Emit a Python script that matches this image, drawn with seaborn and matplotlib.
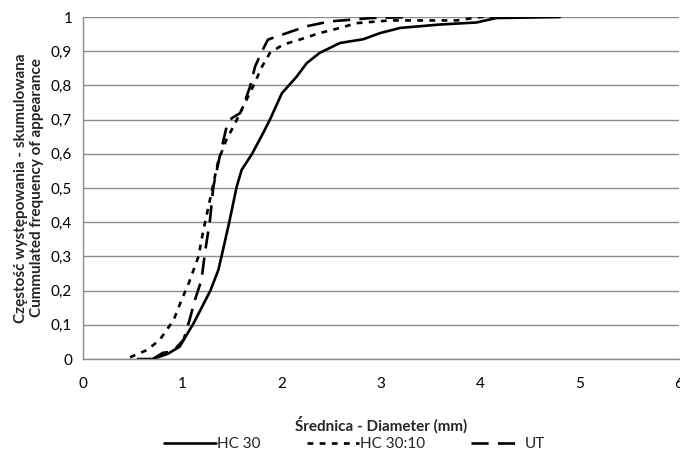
import matplotlib.pyplot as plt
import numpy as np
import pandas as pd
import seaborn as sns

# ---------------------------------------------------------------------------
# Data (cumulated frequency vs diameter)
# ---------------------------------------------------------------------------

hc30_x = [0.55, 0.70, 0.85, 0.97, 1.11, 1.28, 1.36, 1.40, 1.47, 1.545, 1.595,
          1.70, 1.81, 1.88, 2.00, 2.15, 2.25, 2.38, 2.585, 2.82, 2.99, 3.19,
          3.59, 3.96, 4.16, 4.80]
hc30_y = [0.0, 0.0, 0.015, 0.036, 0.104, 0.20, 0.26, 0.31, 0.40, 0.504, 0.553,
          0.60, 0.66, 0.70, 0.777, 0.826, 0.865, 0.895, 0.924, 0.935, 0.953,
          0.968, 0.978, 0.984, 0.997, 1.0]

hc3010_x = [0.47, 0.64, 0.77, 0.91, 0.99, 1.06, 1.16, 1.21, 1.29, 1.36, 1.44,
            1.53, 1.61, 1.71, 1.80, 1.88, 2.01, 2.18, 2.38, 2.585, 2.75, 3.09,
            3.76, 4.00, 4.16]
hc3010_y = [0.005, 0.026, 0.056, 0.114, 0.173, 0.22, 0.30, 0.377, 0.485, 0.58,
            0.64, 0.69, 0.738, 0.797, 0.855, 0.895, 0.919, 0.934, 0.953, 0.968,
            0.982, 0.99, 0.99, 1.0, 1.0]

ut_x = [0.70, 0.80, 0.90, 1.01, 1.07, 1.125, 1.19, 1.225, 1.276, 1.31, 1.38,
        1.444, 1.494, 1.58, 1.61, 1.68, 1.73, 1.80, 1.86, 2.05, 2.25, 2.48,
        2.90, 3.30]
ut_y = [0.0, 0.018, 0.022, 0.056, 0.114, 0.173, 0.231, 0.31, 0.407, 0.504,
        0.60, 0.68, 0.704, 0.719, 0.738, 0.797, 0.855, 0.90, 0.934, 0.953,
        0.973, 0.987, 0.997, 1.0]

series_names = ["HC 30", "HC 30:10", "UT"]
y_ticks = [0, 0.1, 0.2, 0.3, 0.4, 0.5, 0.6, 0.7, 0.8, 0.9, 1.0]
x_ticks = [0, 1, 2, 3, 4, 5, 6]

# ---------------------------------------------------------------------------

sns.set_style("white")
plt.rcParams["font.family"] = ["Lato", "DejaVu Sans"]

fig = plt.figure(figsize=(6.8, 4.5), dpi=100)
ax = fig.add_axes([0.1225, 0.2022, 0.876, 0.760])

styles = {
    "HC 30": "-",
    "HC 30:10": (0, (2.2, 2.4)),
    "UT": (0, (6.5, 3.5)),
}
data = {
    "HC 30": (hc30_x, hc30_y),
    "HC 30:10": (hc3010_x, hc3010_y),
    "UT": (ut_x, ut_y),
}

for name in series_names:
    xs, ys = data[name]
    df = pd.DataFrame({"x": xs, "y": ys})
    sns.lineplot(data=df, x="x", y="y", ax=ax, color="black", linewidth=1.9,
                 linestyle=styles[name], label=name, sort=False,
                 estimator=None)

ax.set_xlim(0, 6)
ax.set_ylim(0, 1)
ax.set_xticks(x_ticks)
ax.set_yticks(y_ticks)
ax.set_yticklabels([("%g" % v).replace(".", ",") for v in y_ticks])

ax.yaxis.grid(True, color="#8c8c8c", linewidth=1.0)
ax.xaxis.grid(False)
ax.set_axisbelow(True)

for side in ["top", "right"]:
    ax.spines[side].set_visible(False)
for side in ["left", "bottom"]:
    ax.spines[side].set_color("#8c8c8c")
    ax.spines[side].set_linewidth(1.0)

ax.tick_params(axis="both", direction="out", length=4, color="#8c8c8c",
               labelsize=11, labelcolor="black", width=1.0)
ax.tick_params(axis="x", pad=9)
ax.tick_params(axis="y", pad=4)

ax.set_xlabel("Średnica - Diameter (mm)", fontsize=11, fontweight="bold",
              labelpad=18)
ax.set_ylabel("Częstość występowania - skumulowana\n"
              "Cummulated frequency of appearance",
              fontsize=11, fontweight="bold", labelpad=5, linespacing=1.15)

ax.legend(loc="upper center", bbox_to_anchor=(0.455, -0.21), ncol=3,
          frameon=False, fontsize=11, handlelength=3.4, handletextpad=0.1,
          columnspacing=3.0, borderaxespad=0)

fig.savefig("out.png", dpi=100)
